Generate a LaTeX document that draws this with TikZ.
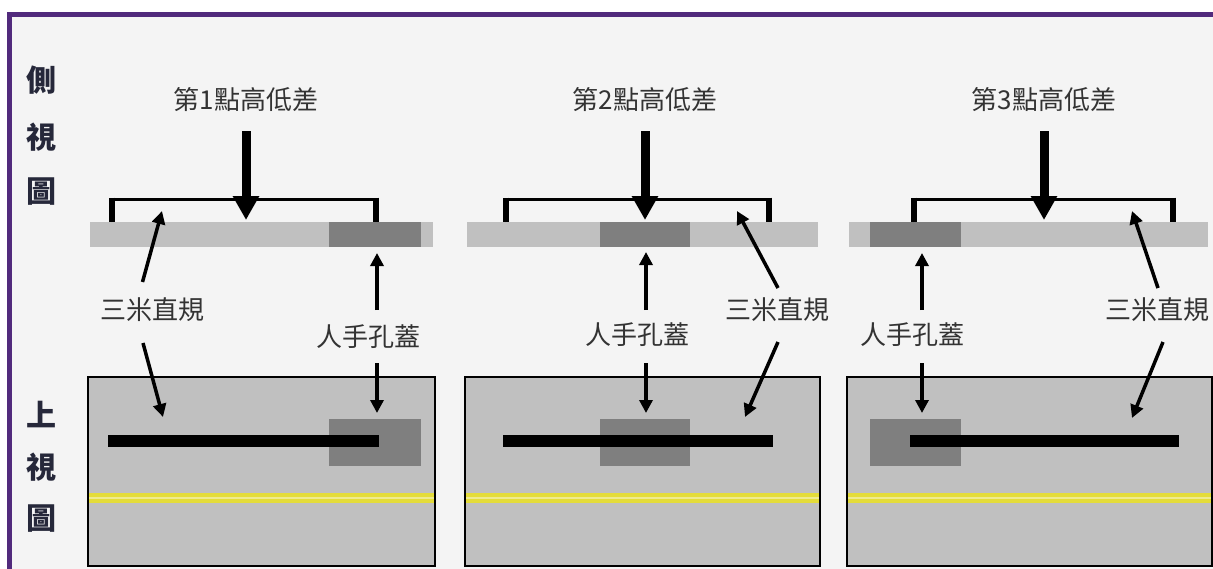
\documentclass[tikz,border=0pt]{standalone}
\usepackage{fontspec}
\newfontfamily\cjk{Noto Sans CJK TC}
\usetikzlibrary{arrows.meta}

\definecolor{framepurple}{HTML}{512A7C}
\definecolor{paper}{HTML}{F4F4F4}
\definecolor{slab}{HTML}{C0C0C0}
\definecolor{cover}{HTML}{7F7F7F}
\definecolor{lane}{HTML}{E4DC3A}
\definecolor{lanelight}{HTML}{EEEA90}
\definecolor{viewtext}{HTML}{26283A}

\begin{document}
\begin{tikzpicture}[x=1pt, y=-1pt,
  lbl/.style={font=\cjk\fontsize{26}{30}\selectfont, text=black!80, inner sep=0pt},
  view/.style={font=\cjk\bfseries\fontsize{30}{34}\selectfont, text=viewtext, inner sep=0pt},
  slabbar/.style={fill=slab},
  coverbox/.style={fill=cover},
  plan/.style={fill=slab, draw=black, line width=2pt},
  rulerbar/.style={fill=black},
  bracket/.style={line width=3pt},
  legs/.style={line width=6pt},
  arw/.style={-{Triangle[width=13pt,length=13pt]}, line width=3.5pt},
  bigarw/.style={-{Triangle[width=25pt,length=24pt]}, line width=9pt}
]
\useasboundingbox (0,0) rectangle (1213,568);
\clip (0,0) rectangle (1213,568);
% background and frame
\fill[white] (0,0) rectangle (1213,568);
\fill[paper] (9.5,14.5) rectangle (1220,580);
\draw[framepurple, line width=5pt] (9.5,580) -- (9.5,14.5) -- (1220,14.5);

% view labels
\node[view] (sv1) at (42,80) {側};
\node[view] (sv2) at (42,137) {視};
\node[view] (sv3) at (42,192) {圖};
\node[view] (tv1) at (42,415) {上};
\node[view] (tv2) at (42,467) {視};
\node[view] (tv3) at (42,519) {圖};

% ---------- point 1 ----------
\node[lbl] (t1) at (246,100) {第1點高低差};
\fill[slabbar] (90,222) rectangle (433,247);
\fill[coverbox] (329,222) rectangle (421,247);
\draw[bracket] (112,222) -- (112,199) -- (376,199) -- (376,222);
\draw[legs] (112,197.5) -- (112,222) (376,197.5) -- (376,222);
\coordinate (d1) at (246,220);
\draw[bigarw] (246,131) -- (d1);

\draw[plan] (88,377) rectangle (435,566);
\fill[lane] (89,493) rectangle (434,503);
\fill[lanelight] (89,497) rectangle (434,499);
\fill[coverbox] (329,419) rectangle (421,466);
\fill[rulerbar] (108,435) rectangle (379,447);

\node[lbl] (r1) at (152,310) {三米直規};
\node[lbl] (c1) at (368,337) {人手孔蓋};
\coordinate (r1a) at (142.5,282);
\coordinate (r1b) at (162,211);
\coordinate (r1c) at (143,343);
\coordinate (r1d) at (163,417);
\coordinate (c1a) at (377,310);
\coordinate (c1b) at (377,253);
\coordinate (c1c) at (377,363);
\coordinate (c1d) at (377,413);
\draw[arw] (r1a) -- (r1b);
\draw[arw] (r1c) -- (r1d);
\draw[arw] (c1a) -- (c1b);
\draw[arw] (c1c) -- (c1d);

% ---------- point 2 ----------
\node[lbl] (t2) at (645,100) {第2點高低差};
\fill[slabbar] (467,222) rectangle (818,247);
\fill[coverbox] (600,222) rectangle (690,247);
\draw[bracket] (506,222) -- (506,199) -- (769,199) -- (769,222);
\draw[legs] (506,197.5) -- (506,222) (769,197.5) -- (769,222);
\coordinate (d2) at (645,220);
\draw[bigarw] (645,131) -- (d2);

\draw[plan] (465,377) rectangle (820,566);
\fill[lane] (466,493) rectangle (819,503);
\fill[lanelight] (466,497) rectangle (819,499);
\fill[coverbox] (600,419) rectangle (690,466);
\fill[rulerbar] (503,435) rectangle (773,447);

\node[lbl] (r2) at (777,310) {三米直規};
\node[lbl] (c2) at (637,335) {人手孔蓋};
\coordinate (r2a) at (778,288);
\coordinate (r2b) at (737,211);
\coordinate (r2c) at (778,342);
\coordinate (r2d) at (745,417);
\coordinate (c2a) at (646,310);
\coordinate (c2b) at (646,252);
\coordinate (c2c) at (646,363);
\coordinate (c2d) at (646,413);
\draw[arw] (r2a) -- (r2b);
\draw[arw] (r2c) -- (r2d);
\draw[arw] (c2a) -- (c2b);
\draw[arw] (c2c) -- (c2d);

% ---------- point 3 ----------
\node[lbl] (t3) at (1044,100) {第3點高低差};
\fill[slabbar] (849,222) rectangle (1208,247);
\fill[coverbox] (870,222) rectangle (961,247);
\draw[bracket] (914,222) -- (914,199) -- (1173,199) -- (1173,222);
\draw[legs] (914,197.5) -- (914,222) (1173,197.5) -- (1173,222);
\coordinate (d3) at (1044,220);
\draw[bigarw] (1044,131) -- (d3);

\draw[plan] (847,377) rectangle (1212,566);
\fill[lane] (848,493) rectangle (1211,503);
\fill[lanelight] (848,497) rectangle (1211,499);
\fill[coverbox] (870,419) rectangle (961,466);
\fill[rulerbar] (910,435) rectangle (1179,447);

\node[lbl] (r3) at (1157,310) {三米直規};
\node[lbl] (c3) at (912,335) {人手孔蓋};
\coordinate (r3a) at (1158,288);
\coordinate (r3b) at (1132,211);
\coordinate (r3c) at (1163,342);
\coordinate (r3d) at (1132,418);
\coordinate (c3a) at (922,310);
\coordinate (c3b) at (922,253);
\coordinate (c3c) at (922,363);
\coordinate (c3d) at (922,413);
\draw[arw] (r3a) -- (r3b);
\draw[arw] (r3c) -- (r3d);
\draw[arw] (c3a) -- (c3b);
\draw[arw] (c3c) -- (c3d);
\end{tikzpicture}
\end{document}
